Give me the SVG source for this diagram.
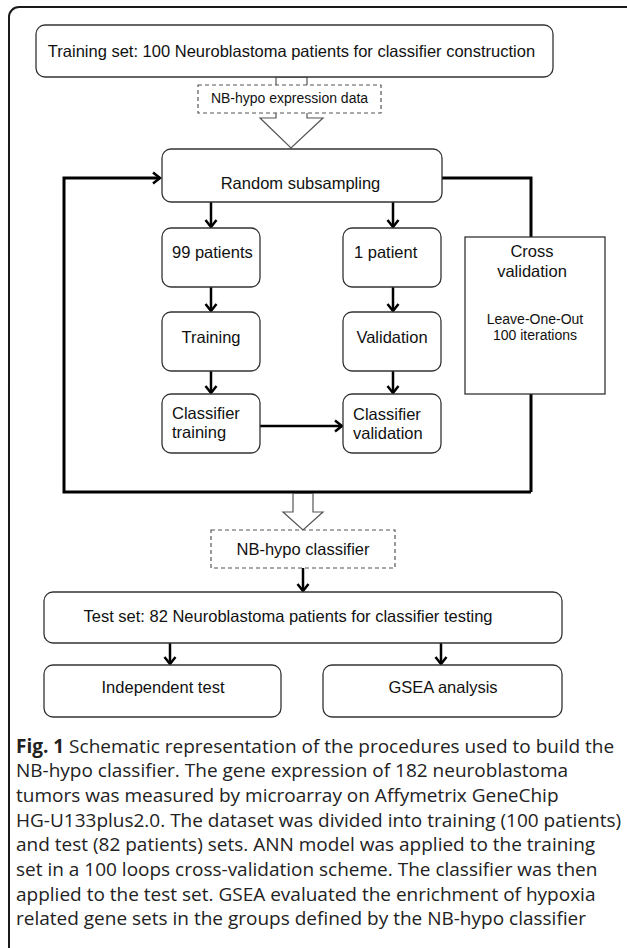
<svg xmlns="http://www.w3.org/2000/svg" width="627" height="948" viewBox="0 0 627 948">
<defs>
<style>
.box{fill:#fff;stroke:#333;stroke-width:1.3}
.dash{fill:#fff;stroke:#555;stroke-width:1.2;stroke-dasharray:4 3}
.hollow{fill:#fff;stroke:#555;stroke-width:1.2}
.loop{fill:none;stroke:#000;stroke-width:3}
.arr{fill:none;stroke:#000;stroke-width:2.5}
.t{font-family:"Liberation Sans",Arial,sans-serif;font-size:16.5px;fill:#111}
.ts{font-family:"Liberation Sans",Arial,sans-serif;font-size:14px;fill:#111}
.m{text-anchor:middle}
.cap{font-family:"Open Sans","Noto Sans",sans-serif;font-size:19px;fill:#222}
</style>
<marker id="ah" markerWidth="14" markerHeight="14" refX="10" refY="7" orient="auto" markerUnits="userSpaceOnUse">
<path d="M3,1.5 L10,7 L3,12.5" fill="none" stroke="#000" stroke-width="2.5"/>
</marker>
</defs>
<rect x="9" y="7" width="640" height="970" rx="10" fill="#fff" stroke="#1a1a1a" stroke-width="2"/>

<g id="connectors">
<polygon class="hollow" points="276,77 276,118 260,118 291,148 323,118 307,118 307,77"/>
<path class="loop" d="M531,492 H64 V178 H160" marker-end="url(#ah)"/>
<path class="loop" d="M442,178 H531 V237"/>
<path class="loop" d="M531,394 V492"/>
<path class="arr" d="M211,202 V227" marker-end="url(#ah)"/>
<path class="arr" d="M393,202 V227" marker-end="url(#ah)"/>
<path class="arr" d="M211,287 V311" marker-end="url(#ah)"/>
<path class="arr" d="M393,287 V311" marker-end="url(#ah)"/>
<path class="arr" d="M211,371 V393" marker-end="url(#ah)"/>
<path class="arr" d="M393,371 V393" marker-end="url(#ah)"/>
<path class="arr" d="M260,426 H342" marker-end="url(#ah)"/>
<polygon class="hollow" points="293,493.5 293,512 283,512 303,530 323,512 313,512 313,493.5"/>
<path class="arr" d="M303,568 V591" marker-end="url(#ah)"/>
<path class="arr" d="M170,643 V664" marker-end="url(#ah)"/>
<path class="arr" d="M441,643 V664" marker-end="url(#ah)"/>
</g>

<g id="training-set">
<rect class="box" x="36" y="25" width="517" height="52" rx="9"/>
<text class="t m" x="291.5" y="57">Training set: 100 Neuroblastoma patients for classifier construction</text>
</g>
<g id="expression-data">
<rect class="dash" x="198" y="85" width="183" height="28"/>
<text class="ts m" x="289.5" y="102.5">NB-hypo expression data</text>
</g>
<g id="random-subsampling">
<rect class="box" x="162" y="149" width="280" height="53" rx="9"/>
<text class="t m" x="300.5" y="189">Random subsampling</text>
</g>
<g id="cross-validation">
<rect class="box" x="465" y="237" width="140" height="157"/>
<text class="t m" x="532" y="257">Cross</text>
<text class="t m" x="532" y="277">validation</text>
<text class="ts m" x="535" y="324">Leave-One-Out</text>
<text class="ts m" x="535" y="340">100 iterations</text>
</g>
<g id="patients-99">
<rect class="box" x="162" y="228" width="98" height="59" rx="9"/>
<text class="t" x="172" y="258">99 patients</text>
</g>
<g id="patient-1">
<rect class="box" x="343" y="228" width="98" height="59" rx="9"/>
<text class="t" x="354" y="258">1 patient</text>
</g>
<g id="training">
<rect class="box" x="162" y="312" width="98" height="59" rx="9"/>
<text class="t m" x="211" y="343">Training</text>
</g>
<g id="validation">
<rect class="box" x="343" y="312" width="98" height="59" rx="9"/>
<text class="t m" x="392" y="343">Validation</text>
</g>
<g id="classifier-training">
<rect class="box" x="162" y="394" width="98" height="59" rx="9"/>
<text class="t" x="172" y="419">Classifier</text>
<text class="t" x="172" y="438">training</text>
</g>
<g id="classifier-validation">
<rect class="box" x="343" y="394" width="98" height="59" rx="9"/>
<text class="t" x="353" y="420">Classifier</text>
<text class="t" x="353" y="439">validation</text>
</g>
<g id="nb-hypo-classifier">
<rect class="dash" x="211" y="530" width="184" height="38"/>
<text class="t m" x="303" y="555">NB-hypo classifier</text>
</g>
<g id="test-set">
<rect class="box" x="44" y="592" width="518" height="51" rx="9"/>
<text class="t m" x="288" y="622">Test set: 82 Neuroblastoma patients for classifier testing</text>
</g>
<g id="independent-test">
<rect class="box" x="44" y="665" width="237" height="52" rx="9"/>
<text class="t m" x="163" y="693">Independent test</text>
</g>
<g id="gsea-analysis">
<rect class="box" x="323" y="665" width="239" height="52" rx="9"/>
<text class="t m" x="443" y="693">GSEA analysis</text>
</g>

<g id="caption">
<text class="cap" x="16" y="752.5"><tspan font-weight="bold">Fig. 1</tspan> Schematic representation of the procedures used to build the</text>
<text class="cap" x="16" y="777.2">NB-hypo classifier. The gene expression of 182 neuroblastoma</text>
<text class="cap" x="16" y="801.9">tumors was measured by microarray on Affymetrix GeneChip</text>
<text class="cap" x="16" y="826.6">HG-U133plus2.0. The dataset was divided into training (100 patients)</text>
<text class="cap" x="16" y="851.3">and test (82 patients) sets. ANN model was applied to the training</text>
<text class="cap" x="16" y="876">set in a 100 loops cross-validation scheme. The classifier was then</text>
<text class="cap" x="16" y="900.7">applied to the test set. GSEA evaluated the enrichment of hypoxia</text>
<text class="cap" x="16" y="925.4">related gene sets in the groups defined by the NB-hypo classifier</text>
</g>
</svg>
